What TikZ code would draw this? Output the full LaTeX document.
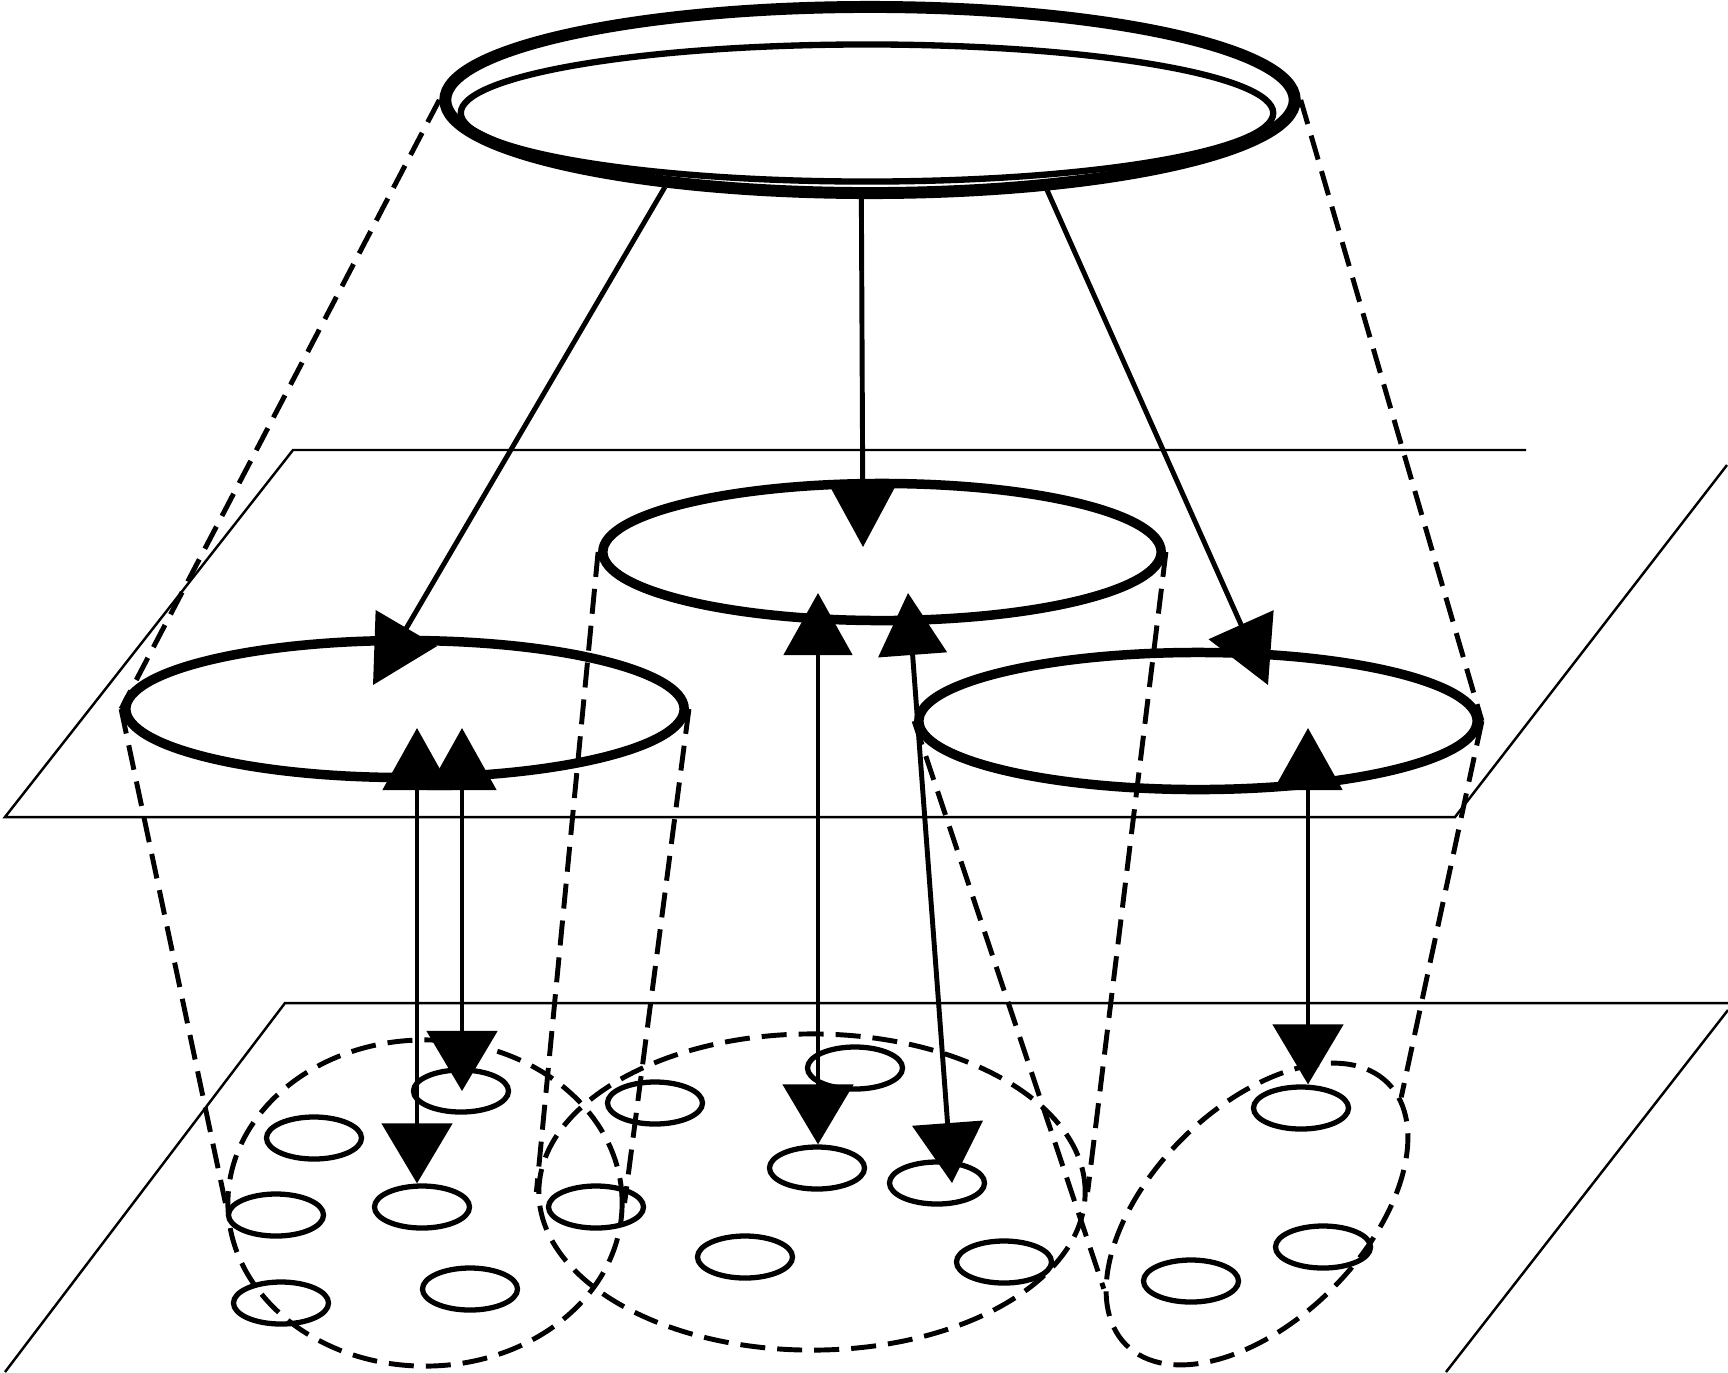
\documentclass[tikz,border=0pt]{standalone}
\usepackage{tikz}
\usetikzlibrary{arrows.meta,shapes.geometric,calc}

\begin{document}
\begin{tikzpicture}[x=0.01cm,y=-0.01cm,
        sheet/.style={line width=0.7pt},
        proj/.style={line width=1.4pt,dash pattern=on 0.25cm off 0.12cm},
        midring/.style={ellipse,draw,line width=2.7pt,inner sep=0pt,minimum width=5.58cm,minimum height=1.37cm},
        cluster/.style={ellipse,draw,line width=1.4pt,inner sep=0pt,dash pattern=on 0.25cm off 0.12cm},
        unit/.style={ellipse,draw,line width=1.5pt,inner sep=0pt,minimum width=0.95cm,minimum height=0.42cm},
        feed/.style={line width=1.4pt,arrows={-Triangle[length=0.66cm,width=0.7cm]}},
        link/.style={line width=1.4pt,arrows={Triangle[length=0.62cm,width=0.68cm]-Triangle[length=0.6cm,width=0.7cm]}}]
    \useasboundingbox (0,0) rectangle (1728,1372);
    % the two planes
    \draw[sheet] (1526,450) -- (293,450) -- (5,817) -- (1455,817) -- (1727,465);
    \draw[sheet] (1728,1003) -- (285,1003) -- (5,1372);
    \draw[sheet] (1728,1010) -- (1446,1372);
    % top ring
    \node[ellipse,draw,line width=3.4pt,inner sep=0pt,minimum width=8.49cm,minimum height=1.86cm] (topOut) at (870,100) {};
    \node[ellipse,draw,line width=1.8pt,inner sep=0pt,minimum width=8.12cm,minimum height=1.37cm] (topIn) at (867,113) {};
    % middle level
    \node[midring] (midL) at (405,709) {};
    \node[midring] (midC) at (882,552) {};
    \node[midring] (midR) at (1198,721) {};
    % bottom level
    \node[cluster,minimum width=3.94cm,minimum height=3.26cm] (grpL) at (425,1203) {};
    \node[cluster,minimum width=5.46cm,minimum height=3.16cm] (grpC) at (812,1192) {};
    \node[cluster,minimum width=3.7cm,minimum height=2.12cm,rotate=45] (grpR) at (1257,1214) {};
    \foreach \n/\px/\py in {1/461/1091, 2/314/1138, 3/422/1207, 4/276/1215, 5/281/1303, 6/470/1289,
                            7/655/1103, 8/596/1207, 9/855/1068, 10/817/1168, 11/937/1183, 12/745/1257,
                            13/1004/1262, 14/1301/1108, 15/1323/1247, 16/1191/1281}{
        \node[unit] (p\n) at (\px,\py) {};
    }
    % projection lines
    \draw[proj] (topOut.west) -- (midL.west);
    \draw[proj] (topOut.east) -- (midR.east);
    \draw[proj] (midL.west) -- (grpL.west);
    \draw[proj] (midL.east) -- (grpL.east);
    \draw[proj] (midC.west) -- (grpC.west);
    \draw[proj] (midC.east) -- (grpC.east);
    \draw[proj] (midR.west) -- (grpR.161);
    \draw[proj] (midR.east) -- (grpR.354);
    % top down to the middle level
    \coordinate (inL) at ($(midL.center)+(-32,-24)$);
    \coordinate (inC) at ($(midC.center)+(-19,-5)$);
    \coordinate (inR) at ($(midR.center)+(70,-36)$);
    \draw[feed] (topOut.203) -- (inL);
    \draw[feed] (topOut.265) -- (inC);
    \draw[feed] (topOut.333) -- (inR);
    % middle level to the bottom level
    \coordinate (uL1) at ($(midL.center)+(12,19)$);
    \coordinate (uL2) at ($(midL.center)+(57,19)$);
    \coordinate (uC1) at ($(midC.center)+(-64,41)$);
    \coordinate (uC2) at ($(midC.center)+(26,41)$);
    \coordinate (uR) at ($(midR.center)+(110,7)$);
    \draw[link] (uL1) -- (uL1 |- p3.north);
    \draw[link] (uL2) -- (uL2 |- p1.center);
    \draw[link] (uC1) -- (uC1 |- p10.north);
    \draw[link] (uC2) -- ([xshift=0.15cm]p11.center);
    \draw[link] (uR) -- (uR |- p14.north);
\end{tikzpicture}
\end{document}
